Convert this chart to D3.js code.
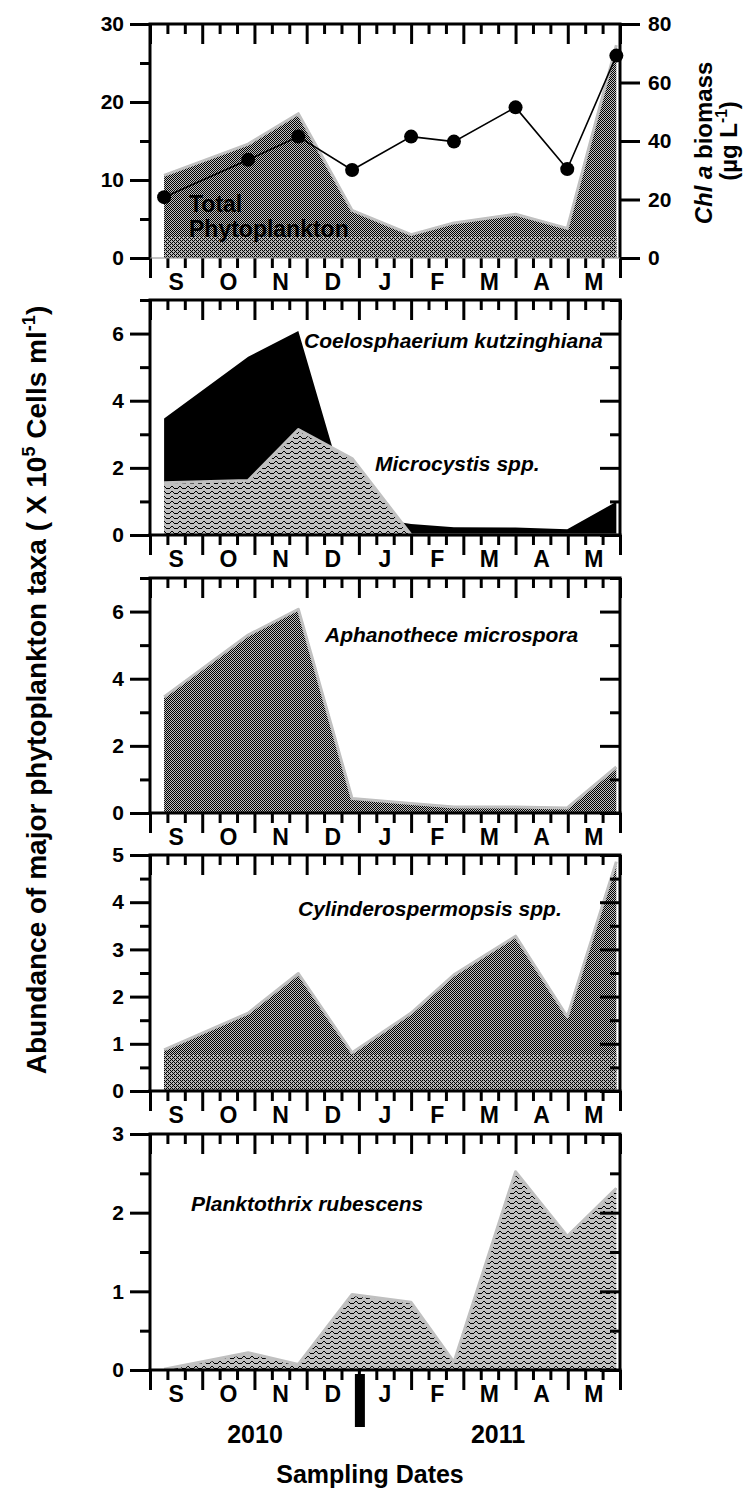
<!DOCTYPE html>
<html>
<head>
<meta charset="utf-8">
<script src="https://cdn.jsdelivr.net/npm/d3@7"></script>
<style>
  body { margin: 0; background: #fff; }
  text { font-family: Arial, "Liberation Sans", sans-serif; font-weight: bold; fill: #000; }
</style>
</head>
<body>
<svg id="chart" width="753" height="1492"></svg>
<script>
// sampling dates as month offsets from 1 Sep 2010
const months = ['S', 'O', 'N', 'D', 'J', 'F', 'M', 'A', 'M'];
const years = ['2010', '2011'];
const samplePos = [0.27, 1.88, 2.84, 3.87, 5.0, 5.82, 7.0, 7.99, 8.93];

const totalPhyto = [10.6, 14.6, 18.5, 6.1, 3.0, 4.5, 5.6, 3.8, 27.3];
const chlA = [20.8, 33.6, 41.5, 30.1, 41.5, 39.8, 51.5, 30.4, 69.2];
const coelosphaerium = [3.47, 5.31, 6.08, 0.6, 0.33, 0.23, 0.22, 0.17, 0.99];
const microcystis = [1.56, 1.62, 3.14, 2.28, 0, 0, 0, 0, 0];
const aphanothece = [3.46, 5.30, 6.07, 0.43, 0.28, 0.18, 0.18, 0.15, 1.37];
const cylindrospermopsis = [0.87, 1.65, 2.49, 0.81, 1.65, 2.46, 3.28, 1.57, 4.86];
const planktothrix = [0.01, 0.22, 0.07, 0.96, 0.86, 0.10, 2.52, 1.70, 2.31];

const leftTicks = [[0, 10, 20, 30], [0, 2, 4, 6], [0, 2, 4, 6], [0, 1, 2, 3, 4, 5], [0, 1, 2, 3]];
const leftMinor = [[5, 15, 25], [1, 3, 5, 7], [1, 3, 5, 7], [0.5, 1.5, 2.5, 3.5, 4.5], [0.5, 1.5, 2.5]];
const chlTicks = [0, 20, 40, 60, 80];

const svg = d3.select('#chart');
const x = d3.scaleLinear().domain([0, 9]).range([150, 620]);
const panels = [
  { top: 24, bottom: 258, max: 30 },
  { top: 300, bottom: 535, max: 7 },
  { top: 578, bottom: 813, max: 7 },
  { top: 855, bottom: 1091, max: 5 },
  { top: 1134, bottom: 1370, max: 3 }
];
panels.forEach((p) => { p.y = d3.scaleLinear().domain([0, p.max]).range([p.bottom, p.top]); });

// pixel patterns
const defs = svg.append('defs');
function pixelPattern(id, w, h, bg, pixels) {
  const pat = defs.append('pattern').attr('id', id).attr('patternUnits', 'userSpaceOnUse')
    .attr('width', w).attr('height', h);
  pat.append('rect').attr('width', w).attr('height', h).attr('fill', bg);
  pat.selectAll('rect.px').data(pixels).enter().append('rect').attr('class', 'px')
    .attr('x', (d) => d[0]).attr('y', (d) => d[1]).attr('width', 1).attr('height', 1)
    .attr('fill', '#000').attr('shape-rendering', 'crispEdges');
}
pixelPattern('dots', 2, 2, '#c0c0c0', [[0, 0], [1, 1]]);
pixelPattern('band', 4, 4, '#b4b4b4', [[0, 0], [2, 0], [1, 1], [0, 2], [2, 2], [3, 3]]);
pixelPattern('wave', 8, 5, '#c0c0c0', [[3, 1], [4, 1], [2, 2], [5, 2], [0, 3], [1, 3], [6, 3], [7, 3]]);

function drawArea(p, values, fill, outline, band) {
  const pts = samplePos.map((pos, i) => [pos, values[i]]);
  const area = d3.area().x((d) => x(d[0])).y0(p.bottom).y1((d) => p.y(d[1]));
  const path = svg.append('path').datum(pts).attr('d', area).attr('fill', fill);
  if (band) {
    const cid = 'clip' + p.top;
    defs.append('clipPath').attr('id', cid).append('path').datum(pts).attr('d', area);
    svg.append('rect').attr('x', 150).attr('width', 470)
      .attr('y', p.y(band)).attr('height', p.bottom - p.y(band))
      .attr('fill', 'url(#band)').attr('clip-path', 'url(#' + cid + ')');
  }
  if (outline) {
    svg.append('path').datum(pts)
      .attr('d', d3.line().x((d) => x(d[0])).y((d) => p.y(d[1])))
      .attr('fill', 'none').attr('stroke', '#c0c0c0').attr('stroke-width', 3).attr('stroke-linejoin', 'round');
  }
  return path;
}

function styleAxis(g) {
  g.select('.domain').remove();
  g.selectAll('.tick line').attr('stroke', '#000').attr('stroke-width', 3);
  g.selectAll('.tick text').attr('font-size', 21).attr('font-family', 'Arial, "Liberation Sans", sans-serif').attr('font-weight', 'bold');
}

function drawFrame(p, i) {
  // left axis
  svg.append('g').attr('transform', 'translate(150,0)')
    .call(d3.axisLeft(p.y).tickValues(leftTicks[i]).tickSize(20).tickPadding(6).tickFormat(d3.format('d')))
    .call(styleAxis);
  svg.append('g').attr('transform', 'translate(150,0)')
    .call(d3.axisLeft(p.y).tickValues(leftMinor[i]).tickSize(10).tickFormat(''))
    .call(styleAxis);
  if (i > 0) {
    // mirrored inward ticks on the right
    svg.append('g').attr('transform', 'translate(620,0)')
      .call(d3.axisLeft(p.y).tickValues(leftTicks[i]).tickSize(20).tickFormat(''))
      .call(styleAxis);
    svg.append('g').attr('transform', 'translate(620,0)')
      .call(d3.axisLeft(p.y).tickValues(leftMinor[i]).tickSize(10).tickFormat(''))
      .call(styleAxis);
  }
  // top inward ticks, bottom outward ticks
  const major = d3.range(0, 10);
  const minor = d3.range(0, 27).filter((k) => k % 3).map((k) => k / 3);
  [p.top, p.bottom].forEach((yy) => {
    svg.append('g').attr('transform', 'translate(0,' + yy + ')')
      .call(d3.axisBottom(x).tickValues(major).tickSize(20).tickFormat('')).call(styleAxis);
    svg.append('g').attr('transform', 'translate(0,' + yy + ')')
      .call(d3.axisBottom(x).tickValues(minor).tickSize(10).tickFormat('')).call(styleAxis);
  });
  // frame lines
  svg.append('line').attr('x1', 150).attr('x2', 150).attr('y1', p.top).attr('y2', p.bottom).attr('stroke', '#000').attr('stroke-width', 3);
  svg.append('line').attr('x1', 620).attr('x2', 620).attr('y1', p.top).attr('y2', p.bottom).attr('stroke', '#000').attr('stroke-width', 3);
  svg.append('line').attr('x1', 148.5).attr('x2', 621.5).attr('y1', p.top).attr('y2', p.top).attr('stroke', '#000').attr('stroke-width', 3);
  if (i === 0) {
    svg.append('line').attr('x1', 150).attr('x2', 620).attr('y1', p.bottom).attr('y2', p.bottom).attr('stroke', '#888').attr('stroke-width', 1);
  } else {
    svg.append('line').attr('x1', 148.5).attr('x2', 621.5).attr('y1', p.bottom).attr('y2', p.bottom).attr('stroke', '#000').attr('stroke-width', 3);
  }
  // month labels
  svg.selectAll(null).data(months).enter().append('text')
    .attr('x', (m, k) => x(k + 0.5)).attr('y', p.bottom + 32)
    .attr('text-anchor', 'middle').attr('font-size', 23).text((m) => m);
}

function label(tx, ty, text, size, italic) {
  svg.append('text').attr('x', tx).attr('y', ty).attr('font-size', size)
    .attr('font-style', italic ? 'italic' : 'normal').text(text);
}

// panel 1: total phytoplankton + chl a
const p1 = panels[0];
drawArea(p1, totalPhyto, 'url(#dots)', true, 2.8);
label(189, 212, 'Total', 23, false);
label(189, 237, 'Phytoplankton', 23, false);
const yChl = d3.scaleLinear().domain([0, 80]).range([p1.bottom, p1.top]);
const chlPts = samplePos.map((pos, i) => [pos, chlA[i]]);
svg.append('path').datum(chlPts)
  .attr('d', d3.line().x((d) => x(d[0])).y((d) => yChl(d[1])))
  .attr('fill', 'none').attr('stroke', '#000').attr('stroke-width', 1.6);
svg.selectAll('.chl').data(chlPts).enter().append('circle').attr('class', 'chl')
  .attr('cx', (d) => x(d[0])).attr('cy', (d) => yChl(d[1])).attr('r', 7).attr('fill', '#000');
svg.append('g').attr('transform', 'translate(620,0)')
  .call(d3.axisRight(yChl).tickValues(chlTicks).tickSize(20).tickPadding(8).tickFormat(d3.format('d')))
  .call(styleAxis);
drawFrame(p1, 0);

// panel 2: coelosphaerium + microcystis
const p2 = panels[1];
drawArea(p2, coelosphaerium, '#000', false);
drawArea(p2, microcystis, 'url(#wave)', true);
drawFrame(p2, 1);
label(304, 348, 'Coelosphaerium kutzinghiana', 21, true);
label(375, 471, 'Microcystis spp.', 21, true);

// panel 3: aphanothece
const p3 = panels[2];
drawArea(p3, aphanothece, 'url(#dots)', true);
drawFrame(p3, 2);
label(325, 642, 'Aphanothece microspora', 21, true);

// panel 4: cylindrospermopsis
const p4 = panels[3];
drawArea(p4, cylindrospermopsis, 'url(#dots)', true, 0.78);
drawFrame(p4, 3);
label(298, 916, 'Cylinderospermopsis spp.', 21, true);

// panel 5: planktothrix
const p5 = panels[4];
drawArea(p5, planktothrix, 'url(#wave)', true);
drawFrame(p5, 4);
label(191, 1211, 'Planktothrix rubescens', 21, true);

// year separator and labels
svg.append('rect').attr('x', x(4) - 4).attr('y', p5.bottom + 4).attr('width', 10).attr('height', 53).attr('fill', '#000');
svg.selectAll('.year').data(years).enter().append('text').attr('class', 'year')
  .attr('x', (d, i) => [255, 498][i]).attr('y', 1443).attr('text-anchor', 'middle').attr('font-size', 25).text((d) => d);
svg.append('text').attr('x', 370).attr('y', 1483).attr('text-anchor', 'middle').attr('font-size', 25).text('Sampling Dates');

// rotated axis titles
function richText(g, parts, size) {
  let raised = false;
  parts.forEach(([txt, sup]) => {
    const t = g.append('tspan').text(txt);
    if (sup && !raised) t.attr('dy', -size * 0.4).attr('font-size', size * 0.65);
    if (!sup && raised) t.attr('dy', size * 0.4);
    raised = sup;
  });
}
const leftTitle = svg.append('text').attr('transform', 'translate(46,690) rotate(-90)')
  .attr('text-anchor', 'middle').attr('font-size', 28);
richText(leftTitle, [['Abundance of major phytoplankton taxa ( X 10', false], ['5', true], [' Cells ml', false], ['-1', true], [')', false]], 28);

const rt1 = svg.append('text').attr('transform', 'translate(712,143) rotate(-90)')
  .attr('text-anchor', 'middle').attr('font-size', 24);
rt1.append('tspan').attr('font-style', 'italic').text('Chl a');
rt1.append('tspan').text(' biomass');
const rt2 = svg.append('text').attr('transform', 'translate(737,141) rotate(-90)')
  .attr('text-anchor', 'middle').attr('font-size', 24);
richText(rt2, [['(\u00b5g  L', false], ['-1', true], [')', false]], 24);
</script>
</body>
</html>
